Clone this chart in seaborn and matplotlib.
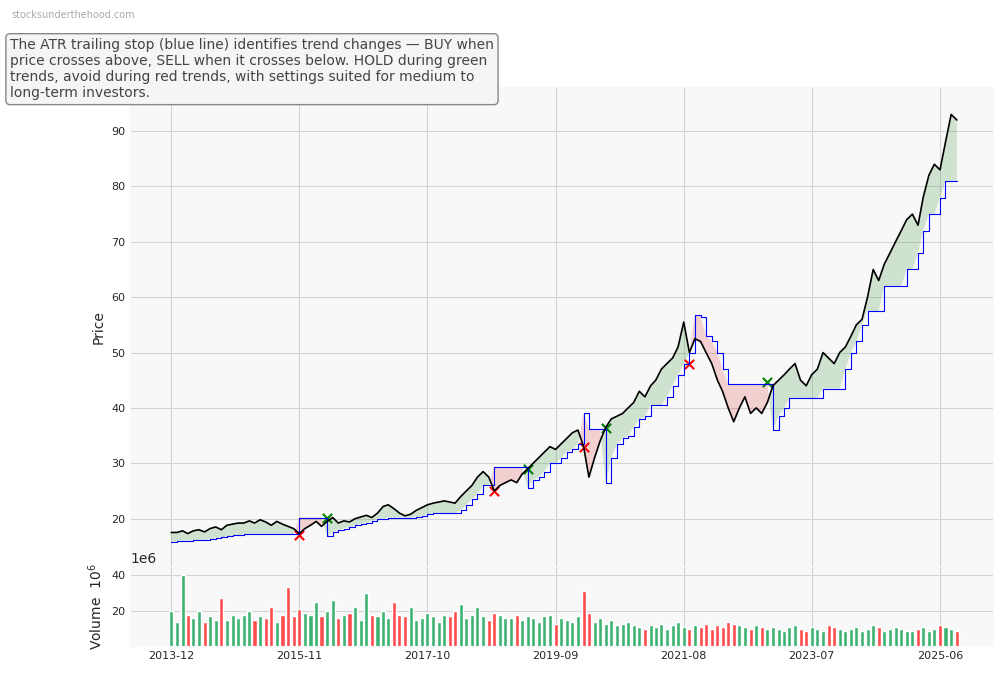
import numpy as np
import pandas as pd
import matplotlib
matplotlib.use("Agg")
import matplotlib.pyplot as plt
import matplotlib.ticker as mticker
import seaborn as sns

dates = pd.date_range("2013-12-01", periods=142, freq="MS")
price = [17.5,
 17.5,17.8,17.3,17.8,18.0,17.6,18.2,18.5,18.0,18.8,19.0,19.2,
 19.2,19.6,19.2,19.8,19.4,18.8,19.5,19.0,18.6,18.2,17.3,18.2,
 18.8,19.5,18.6,19.5,20.2,19.2,19.6,19.4,20.0,20.3,20.6,20.2,
 21.0,22.2,22.5,21.8,21.0,20.5,20.8,21.5,22.0,22.5,22.8,23.0,
 23.2,23.0,22.8,24.0,25.0,26.0,27.5,28.5,27.5,25.0,26.0,26.5,
 27.0,26.5,28.0,29.0,30.0,31.0,32.0,33.0,32.5,33.5,34.5,35.5,
 36.0,33.0,27.5,31.0,34.0,36.5,38.0,38.5,39.0,40.0,41.0,43.0,
 42.0,44.0,45.0,47.0,48.0,49.0,51.0,55.5,50.0,52.5,52.0,50.0,
 48.0,45.0,43.0,40.0,37.5,40.0,42.0,39.0,40.0,39.0,41.0,44.0,
 45.0,46.0,47.0,48.0,45.0,44.0,46.0,47.0,50.0,49.0,48.0,50.0,
 51.0,53.0,55.0,56.0,60.0,65.0,63.0,66.0,68.0,70.0,72.0,74.0,
 75.0,73.0,78.0,82.0,84.0,83.0,88.0,93.0,92.0]
stop = [15.8,
 15.9,16.0,16.0,16.1,16.2,16.2,16.3,16.5,16.6,16.8,17.0,17.0,
 17.2,17.2,17.2,17.2,17.2,17.2,17.2,17.2,17.2,17.2,20.2,20.2,
 20.2,20.2,20.2,16.8,17.5,18.0,18.2,18.5,18.8,19.0,19.3,19.5,
 20.0,20.0,20.2,20.2,20.2,20.2,20.2,20.3,20.5,20.8,21.0,21.0,
 21.0,21.0,21.0,21.5,22.5,23.5,24.5,26.0,26.0,29.3,29.3,29.3,
 29.3,29.3,29.3,25.5,27.0,27.5,28.5,30.0,30.0,31.0,32.0,32.5,
 33.5,39.0,36.2,36.2,36.2,26.5,31.0,33.5,34.5,35.0,36.5,38.0,
 38.5,40.5,40.5,40.5,42.0,44.0,46.0,48.0,50.0,56.8,56.5,53.0,
 52.0,50.0,47.0,44.3,44.3,44.3,44.3,44.3,44.3,44.3,44.3,36.0,
 38.5,40.0,41.7,41.7,41.7,41.7,41.7,41.7,43.5,43.5,43.5,43.5,
 47.0,50.0,52.0,55.0,57.5,57.5,57.5,62.0,62.0,62.0,62.0,65.0,
 65.0,68.0,72.0,75.0,75.0,78.0,81.0,81.0,81.0]
volume_m = [20,
 14,40,18,16,20,14,17,15,27,15,18,16,
 18,20,15,17,16,22,14,18,33,17,21,19,
 18,25,17,20,26,16,18,19,22,15,30,18,
 17,20,16,25,18,17,22,15,16,19,17,14,
 18,17,20,24,16,18,22,17,15,19,18,16,
 16,18,15,17,16,14,17,18,13,16,15,14,
 17,31,19,14,16,13,15,12,13,14,12,11,
 10,12,11,13,10,12,14,11,10,12,11,13,
 10,12,11,14,13,12,11,10,12,11,10,11,
 10,9,11,12,10,9,11,10,9,12,11,10,
 9,10,11,9,10,12,11,9,10,11,10,9,
 9,10,11,9,10,12,11,10,9]
sell_dates = pd.to_datetime(["2015-11-01", "2018-10-01", "2020-02-01", "2021-09-01"])
sell_vals = [17.0, 25.0, 33.0, 48.0]
buy_dates = pd.to_datetime(["2016-04-01", "2019-04-01", "2020-06-01", "2022-11-01"])
buy_vals = [20.2, 29.0, 36.3, 44.6]
tick_dates = pd.to_datetime(["2013-12-01","2015-11-01","2017-10-01","2019-09-01",
                             "2021-08-01","2023-07-01","2025-06-01"])

df = pd.DataFrame({"date": dates, "price": price, "stop": stop,
                   "volume": np.array(volume_m) * 1e6})

sns.set_style("whitegrid", {"axes.facecolor": "#f8f8f8", "grid.color": "#d4d4d4",
                            "axes.edgecolor": "#f8f8f8"})
fig = plt.figure(figsize=(10.04, 6.78), dpi=100)
ax = fig.add_axes([0.1295, 0.164, 0.860, 0.708])
axv = fig.add_axes([0.1295, 0.047, 0.860, 0.117], sharex=ax)

p = df["price"].values; s = df["stop"].values
ax.fill_between(df["date"], p, s, where=p >= s, color="#2e8b2e", alpha=0.2, interpolate=True, lw=0)
ax.fill_between(df["date"], p, s, where=p < s, color="#e03030", alpha=0.2, interpolate=True, lw=0)
ax.step(df["date"], s, where="post", color="blue", lw=0.8)
sns.lineplot(data=df, x="date", y="price", ax=ax, color="black", lw=1.2)
sns.scatterplot(x=sell_dates, y=sell_vals, ax=ax, marker="x", color="red", s=45, linewidth=1.5)
sns.scatterplot(x=buy_dates, y=buy_vals, ax=ax, marker="x", color="green", s=45, linewidth=1.5)
ax.set_ylim(11.3, 98)
ax.set_xlim(pd.Timestamp("2013-04-20"), pd.Timestamp("2026-03-20"))
ax.set_ylabel("Price", fontsize=10)
ax.set_xlabel("")
ax.tick_params(labelbottom=False, labelsize=8, length=0)
ax.set_xticks(tick_dates)
for x in tick_dates:
    pass

up = np.r_[True, np.diff(p) >= 0]
cols = np.where(up, "#3cb371", "#ff4d4d")
axv.bar(df["date"], df["volume"], width=22, color=cols)
axv.set_ylim(0.5e6, 44.4e6)
axv.set_yticks([20e6, 40e6])
fmt = mticker.ScalarFormatter(useMathText=False)
fmt.set_powerlimits((6, 6))
axv.yaxis.set_major_formatter(fmt)
axv.set_ylabel("Volume  $10^6$", fontsize=10)
axv.set_xticks(tick_dates)
axv.set_xticklabels([d.strftime("%Y-%m") for d in tick_dates])
axv.tick_params(labelsize=8, length=0)
axv.set_xlabel("")

fig.text(0.011, 0.978, "stocksunderthehood.com", fontsize=7, color="#aaaaaa", va="center")
fig.text(0.01, 0.898, "The ATR trailing stop (blue line) identifies trend changes — BUY when\n"
         "price crosses above, SELL when it crosses below. HOLD during green\n"
         "trends, avoid during red trends, with settings suited for medium to\n"
         "long-term investors.", fontsize=10, color="#444444", va="center",
         bbox=dict(boxstyle="round,pad=0.3", fc="#f5f5f5", ec="#888888"))
fig.savefig("out.png", dpi=100)
